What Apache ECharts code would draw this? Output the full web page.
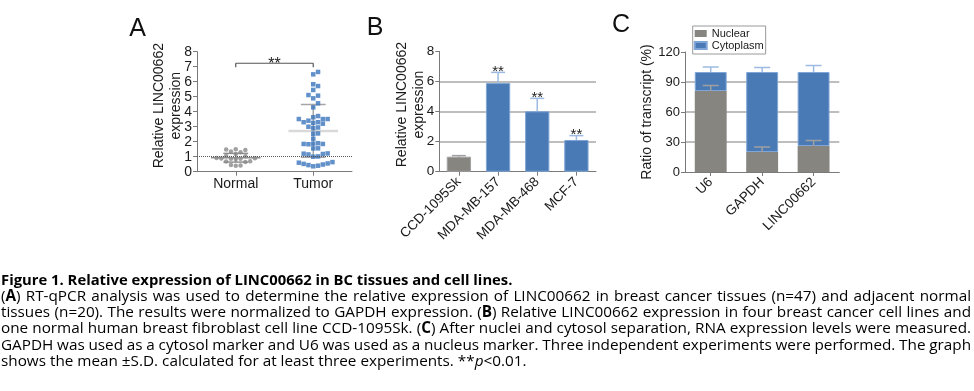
<!DOCTYPE html>
<html><head><meta charset="utf-8">
<script src="https://cdn.jsdelivr.net/npm/echarts@6/dist/echarts.min.js"></script>
<style>html,body{margin:0;padding:0;background:#fff}#c{width:974px;height:391px}</style>
</head><body><div id="c"></div>
<script>
// ---------- Panel A data ----------
const groupsA = ['Normal', 'Tumor'];
const normalValues = [1.48, 1.45, 1.50, 1.35, 1.30, 1.18, 1.05, 1.03, 0.92, 0.90,
                      0.88, 0.87, 0.86, 0.85, 0.70, 0.68, 0.65, 0.45, 0.42, 0.40];
const tumorValues = [6.65, 6.49, 5.83, 5.71, 5.45, 5.11, 5.07, 4.89, 4.56, 4.29,
                     3.71, 3.63, 3.51, 3.51, 3.51, 3.40, 3.30, 3.30, 3.25, 3.20,
                     3.00, 2.95, 2.90, 2.55, 2.53, 2.20, 1.90, 1.87, 1.85, 1.85,
                     1.83, 1.56, 1.55, 1.22, 1.20, 1.18, 1.15, 1.02, 1.00, 0.64,
                     0.60, 0.55, 0.52, 0.48, 0.44, 0.40, 0.36];
const meanA = [0.93, 2.72];
const sdA = [0.29, 1.76];
const refLineA = 1;
const sigLevelA = 7.23;
const sigTextA = '**';

// ---------- Panel B data ----------
const cellLines = ['CCD-1095Sk', 'MDA-MB-157', 'MDA-MB-468', 'MCF-7'];
const exprB = [1.0, 5.9, 4.02, 2.11];
const sdB = [0.07, 0.71, 0.86, 0.29];
const sigB = ['', '**', '**', '**'];

// ---------- Panel C data ----------
const genesC = ['U6', 'GAPDH', 'LINC00662'];
const nuclearC = [81, 20, 26];
const cytoplasmC = [19, 80, 74];
const nuclearSdC = [5.5, 5, 5.5];
const cytoplasmSdC = [5, 4.5, 6.5];

// ---------- Caption ----------
const captionTitle = 'Figure 1. Relative expression of LINC00662 in BC tissues and cell lines.';
const captionLines = [
  '({b|A}) RT-qPCR analysis was used to determine the relative expression of LINC00662 in breast cancer tissues (n=47) and adjacent normal',
  'tissues (n=20). The results were normalized to GAPDH expression. ({b|B}) Relative LINC00662 expression in four breast cancer cell lines and',
  'one normal human breast fibroblast cell line CCD-1095Sk. ({b|C}) After nuclei and cytosol separation, RNA expression levels were measured.',
  'GAPDH was used as a cytosol marker and U6 was used as a nucleus marker. Three independent experiments were performed. The graph',
  'shows the mean ±S.D. calculated for at least three experiments. **{i|p}<0.01.'
];

// ---------- styles / layout ----------
const FONT = '"Liberation Sans", Arial, sans-serif';
const CAP_FONT = '"Open Sans", sans-serif';
const AXIS_COLOR = '#7a7a7a';
const TEXT_COLOR = '#1a1a1a';
const GREY = '#878580';
const GREY_BORDER = '#a3a3a3';
const BLUE = '#4a7ab5';
const BLUE_BORDER = '#7fa6d6';
const ERR_BLUE = '#9dbbe2';
const ERR_GREY = '#a0a0a0';
const GRID_LINE = '#a9a9a9';

const gridA = {left: 197, top: 51.7, width: 155, height: 120};
const gridB = {left: 439.3, top: 51.5, width: 156.7, height: 120.2};
const gridC = {left: 685, top: 52, width: 154.3, height: 120};

// beeswarm layout (pixel-space collision avoidance)
function swarm(values, center, pxX, pxY, d) {
  const order = values.map((v, i) => i).sort((a, b) => values[a] - values[b]);
  const placed = [];
  const out = new Array(values.length);
  for (const i of order) {
    const y = values[i] * pxY;
    let off = 0;
    for (let n = 0; n < 200; n++) {
      off = n === 0 ? 0 : (n % 2 ? 1 : -1) * Math.ceil(n / 2) * d;
      if (!placed.some(p => Math.abs(p.x - off) < d * 0.95 && Math.abs(p.y - y) < d * 0.95)) break;
    }
    placed.push({x: off, y});
    out[i] = [center + off / pxX, values[i]];
  }
  return out;
}
const pxXA = gridA.width / 2, pxYA = gridA.height / 8;
const normalPts = swarm(normalValues, 0.5, pxXA, pxYA, 4.8);
const tumorPts = swarm(tumorValues, 1.5, pxXA, pxYA, 4.8);

function yAxisDef(grid, min, max, interval, name, nameGap, padLeft, fontSize, split) {
  return {
    gridIndex: grid, type: 'value', min, max, interval, name,
    nameLocation: 'middle', nameGap, nameRotate: 90, nameMoveOverlap: false,
    nameTextStyle: {fontFamily: FONT, fontSize: 14, color: TEXT_COLOR, lineHeight: 17, padding: [0, 0, 0, padLeft]},
    axisLine: {show: true, lineStyle: {color: AXIS_COLOR, width: 1}},
    axisTick: {show: true, length: 4, lineStyle: {color: AXIS_COLOR}},
    axisLabel: {fontFamily: FONT, fontSize, color: TEXT_COLOR, margin: 5},
    splitLine: split ? {show: true, showMinLine: false, showMaxLine: false, lineStyle: {color: GRID_LINE, width: 1.5}} : {show: false}
  };
}
function xCatDef(grid, data, rotate, fontSize, margin) {
  return {
    gridIndex: grid, type: 'category', data,
    axisLine: {show: true, lineStyle: {color: AXIS_COLOR, width: 1}},
    axisTick: {show: true, alignWithLabel: true, length: 4, lineStyle: {color: AXIS_COLOR}},
    axisLabel: {interval: 0, rotate, fontFamily: FONT, fontSize, color: TEXT_COLOR, margin}
  };
}

// caption layout
const mc = document.createElement('canvas').getContext('2d');
function fontStr(kind, fs, forceBold) {
  const bold = forceBold || kind === 'b';
  return (kind === 'i' ? 'italic ' : 'normal ') + (bold ? 'bold ' : 'normal ') + fs + 'px ' + CAP_FONT;
}
function runsOf(token) {
  const out = []; const re = /\{(\w)\|([^}]*)\}/g; let last = 0, m;
  while ((m = re.exec(token))) {
    if (m.index > last) out.push({t: token.slice(last, m.index), k: ''});
    out.push({t: m[2], k: m[1]}); last = re.lastIndex;
  }
  if (last < token.length) out.push({t: token.slice(last), k: ''});
  return out;
}
function measureRuns(runs, fs, bold) {
  return runs.map(r => { mc.font = fontStr(r.k, fs, bold); return mc.measureText(r.t).width; });
}
function naturalWidth(line, fs, bold) {
  const words = line.split(' ').map(runsOf);
  mc.font = fontStr('', fs, bold);
  const sp = mc.measureText(' ').width;
  return words.reduce((a, w) => a + measureRuns(w, fs, bold).reduce((x, y) => x + y, 0), 0) + sp * (words.length - 1);
}
const CAP_L = 1, CAP_R = 971;
// font sizes fitted so the natural lines end where they do in the figure
const capFs = 13 * (527 - CAP_L) / naturalWidth(captionLines[captionLines.length - 1], 13, false);
const titleFs = 13 * (513 - CAP_L) / naturalWidth(captionTitle, 13, true);
const captionEls = [];
function layoutLine(line, yMid, fs, bold, justify) {
  const words = line.split(' ').map(runsOf);
  const widths = words.map(w => measureRuns(w, fs, bold));
  const total = widths.reduce((a, ws) => a + ws.reduce((x, y) => x + y, 0), 0);
  mc.font = fontStr('', fs, bold);
  const gap = justify ? (CAP_R - CAP_L - total) / (words.length - 1) : mc.measureText(' ').width;
  let x = CAP_L;
  words.forEach((w, wi) => {
    w.forEach((r, ri) => {
      captionEls.push({type: 'text', x, y: yMid, silent: true,
        style: {text: r.t, font: fontStr(r.k, fs, bold), fill: '#000', align: 'left', verticalAlign: 'middle',
                textAlign: 'left', textVerticalAlign: 'middle'}});
      x += widths[wi][ri];
    });
    x += gap;
  });
}
const capBase = 280.3, capStep = 16.27;
layoutLine(captionTitle, capBase, titleFs, true, false);
captionLines.forEach((l, i) => layoutLine(l, capBase + capStep * (i + 1), capFs, false, i < captionLines.length - 1));

const letterEls = [['A', 137.5, 29.2], ['B', 375, 27.7], ['C', 621, 24.8]].map(([t, x, y]) => ({
  type: 'text', x, y, silent: true,
  style: {text: t, font: 'normal normal 25px ' + FONT, fill: '#111', align: 'center', verticalAlign: 'middle', textAlign: 'center', textVerticalAlign: 'middle'}
}));

const chart = echarts.init(document.getElementById('c'));
const option = {
  animation: false,
  textStyle: {fontFamily: FONT},
  grid: [gridA, gridB, gridC],
  legend: {
    data: ['Nuclear', 'Cytoplasm'], orient: 'vertical', left: 692.7, top: 26,
    icon: 'rect', itemWidth: 12, itemHeight: 7, itemGap: 1, padding: [2, 2, 3, 1],
    borderColor: '#9a9a9a', borderWidth: 1,
    textStyle: {fontFamily: FONT, fontSize: 11, color: TEXT_COLOR, lineHeight: 10}
  },
  xAxis: [
    xCatDef(0, groupsA, 0, 14, 5),
    {gridIndex: 0, type: 'value', min: 0, max: 2, show: false},
    xCatDef(1, cellLines, 45, 13.5, 8),
    xCatDef(2, genesC, 45, 13.5, 8)
  ],
  yAxis: [
    yAxisDef(0, 0, 8, 1, 'Relative LINC00662\nexpression', 12.5, 12, 14, false),
    yAxisDef(1, 0, 8, 2, 'Relative LINC00662\nexpression', 11.8, 14, 13.5, true),
    yAxisDef(2, 0, 120, 30, 'Ratio of transcript (%)', 29.5, 0, 13, true)
  ],
  series: [
    // Panel A: mean and SD
    {
      type: 'custom', xAxisIndex: 1, yAxisIndex: 0, z: 1, silent: true,
      data: groupsA.map((g, i) => [i + 0.5, meanA[i], sdA[i]]),
      renderItem(params, api) {
        const i = params.dataIndex;
        const x = api.value(0), m = api.value(1), s = api.value(2);
        const pm = api.coord([x, m]), pt = api.coord([x, m + s]), pb = api.coord([x, m - s]);
        const hw = api.size([0.32, 0])[0], hc = api.size([0.16, 0])[0];
        const meanColor = i === 0 ? '#8f8f8f' : '#d9d9d9';
        const sdColor = i === 0 ? '#8f8f8f' : '#a6a6a6';
        return {type: 'group', children: [
          {type: 'line', shape: {x1: pm[0] - hw, y1: pm[1], x2: pm[0] + hw, y2: pm[1]}, style: {stroke: meanColor, lineWidth: i === 0 ? 1.5 : 2.5}},
          {type: 'line', shape: {x1: pt[0], y1: pt[1], x2: pb[0], y2: pb[1]}, style: {stroke: sdColor, lineWidth: 1.5}},
          {type: 'line', shape: {x1: pt[0] - hc, y1: pt[1], x2: pt[0] + hc, y2: pt[1]}, style: {stroke: sdColor, lineWidth: 1.5}},
          {type: 'line', shape: {x1: pb[0] - hc, y1: pb[1], x2: pb[0] + hc, y2: pb[1]}, style: {stroke: sdColor, lineWidth: 1.5}}
        ]};
      }
    },
    {
      name: 'Normal', type: 'scatter', xAxisIndex: 1, yAxisIndex: 0, z: 2,
      data: normalPts, symbol: 'circle', symbolSize: 4.5, itemStyle: {color: '#8a8a8a'},
      markLine: {silent: true, symbol: ['none', 'none'], label: {show: false},
        lineStyle: {type: 'dotted', color: '#555', width: 1}, data: [{yAxis: refLineA}]}
    },
    {
      name: 'Tumor', type: 'scatter', xAxisIndex: 1, yAxisIndex: 0, z: 2,
      data: tumorPts, symbol: 'rect', symbolSize: 4.5, itemStyle: {color: '#3b75bd'}
    },
    // Panel A significance bracket
    {
      type: 'custom', xAxisIndex: 1, yAxisIndex: 0, z: 3, silent: true,
      data: [[0.5, 1.5, sigLevelA]],
      renderItem(params, api) {
        const p1 = api.coord([api.value(0), api.value(2)]), p2 = api.coord([api.value(1), api.value(2)]);
        return {type: 'group', children: [
          {type: 'line', shape: {x1: p1[0], y1: p1[1], x2: p2[0], y2: p2[1]}, style: {stroke: '#555', lineWidth: 1.2}},
          {type: 'line', shape: {x1: p1[0], y1: p1[1], x2: p1[0], y2: p1[1] + 4}, style: {stroke: '#555', lineWidth: 1.2}},
          {type: 'line', shape: {x1: p2[0], y1: p2[1], x2: p2[0], y2: p2[1] + 4}, style: {stroke: '#555', lineWidth: 1.2}},
          {type: 'text', x: (p1[0] + p2[0]) / 2, y: p1[1] + 1.2,
           style: {text: sigTextA, font: 'normal normal 16px ' + FONT, fill: '#222', align: 'center', verticalAlign: 'middle'}}
        ]};
      }
    },
    // Panel B bars
    {
      name: 'Expression', type: 'bar', xAxisIndex: 2, yAxisIndex: 1, barWidth: '62%', z: 2,
      data: exprB.map((v, i) => ({value: v, itemStyle: i === 0
        ? {color: GREY, borderColor: GREY_BORDER, borderWidth: 1}
        : {color: BLUE, borderColor: BLUE_BORDER, borderWidth: 1}}))
    },
    {
      type: 'custom', xAxisIndex: 2, yAxisIndex: 1, z: 3, silent: true,
      data: exprB.map((v, i) => [i, v, sdB[i]]),
      renderItem(params, api) {
        const i = params.dataIndex;
        const v = api.value(1), s = api.value(2);
        const p0 = api.coord([i, v]), p1 = api.coord([i, v + s]);
        const hc = 7;
        const col = i === 0 ? ERR_GREY : ERR_BLUE;
        const children = [
          {type: 'line', shape: {x1: p0[0], y1: p0[1], x2: p1[0], y2: p1[1]}, style: {stroke: col, lineWidth: 1.5}},
          {type: 'line', shape: {x1: p1[0] - hc, y1: p1[1], x2: p1[0] + hc, y2: p1[1]}, style: {stroke: col, lineWidth: 1.5}}
        ];
        if (sigB[i]) children.push({type: 'text', x: p1[0], y: p1[1] - 0.6,
          style: {text: sigB[i], font: 'normal normal 15px ' + FONT, fill: '#222', align: 'center', verticalAlign: 'middle'}});
        return {type: 'group', children};
      }
    },
    // Panel C stacked bars
    {
      name: 'Nuclear', type: 'bar', stack: 'c', xAxisIndex: 3, yAxisIndex: 2, barWidth: '62%', z: 2,
      data: nuclearC, itemStyle: {color: GREY, borderColor: GREY, borderWidth: 0}
    },
    {
      name: 'Cytoplasm', type: 'bar', stack: 'c', xAxisIndex: 3, yAxisIndex: 2, barWidth: '62%', z: 2,
      data: cytoplasmC, itemStyle: {color: BLUE, borderColor: BLUE_BORDER, borderWidth: 1}
    },
    {
      type: 'custom', xAxisIndex: 3, yAxisIndex: 2, z: 3, silent: true,
      data: genesC.map((g, i) => [i, nuclearC[i], cytoplasmC[i], nuclearSdC[i], cytoplasmSdC[i]]),
      renderItem(params, api) {
        const i = params.dataIndex;
        const n = api.value(1), c = api.value(2), sn = api.value(3), scy = api.value(4);
        const a0 = api.coord([i, n]), a1 = api.coord([i, n + sn]);
        const b0 = api.coord([i, n + c]), b1 = api.coord([i, n + c + scy]);
        const hc = 8;
        return {type: 'group', children: [
          {type: 'line', shape: {x1: a0[0], y1: a0[1], x2: a1[0], y2: a1[1]}, style: {stroke: ERR_GREY, lineWidth: 1.5}},
          {type: 'line', shape: {x1: a1[0] - hc, y1: a1[1], x2: a1[0] + hc, y2: a1[1]}, style: {stroke: ERR_GREY, lineWidth: 1.5}},
          {type: 'line', shape: {x1: b0[0], y1: b0[1], x2: b1[0], y2: b1[1]}, style: {stroke: ERR_BLUE, lineWidth: 1.5}},
          {type: 'line', shape: {x1: b1[0] - hc, y1: b1[1], x2: b1[0] + hc, y2: b1[1]}, style: {stroke: ERR_BLUE, lineWidth: 1.5}}
        ]};
      }
    }
  ],
  graphic: {elements: letterEls.concat(captionEls)}
};
chart.setOption(option);
</script>
</body></html>
